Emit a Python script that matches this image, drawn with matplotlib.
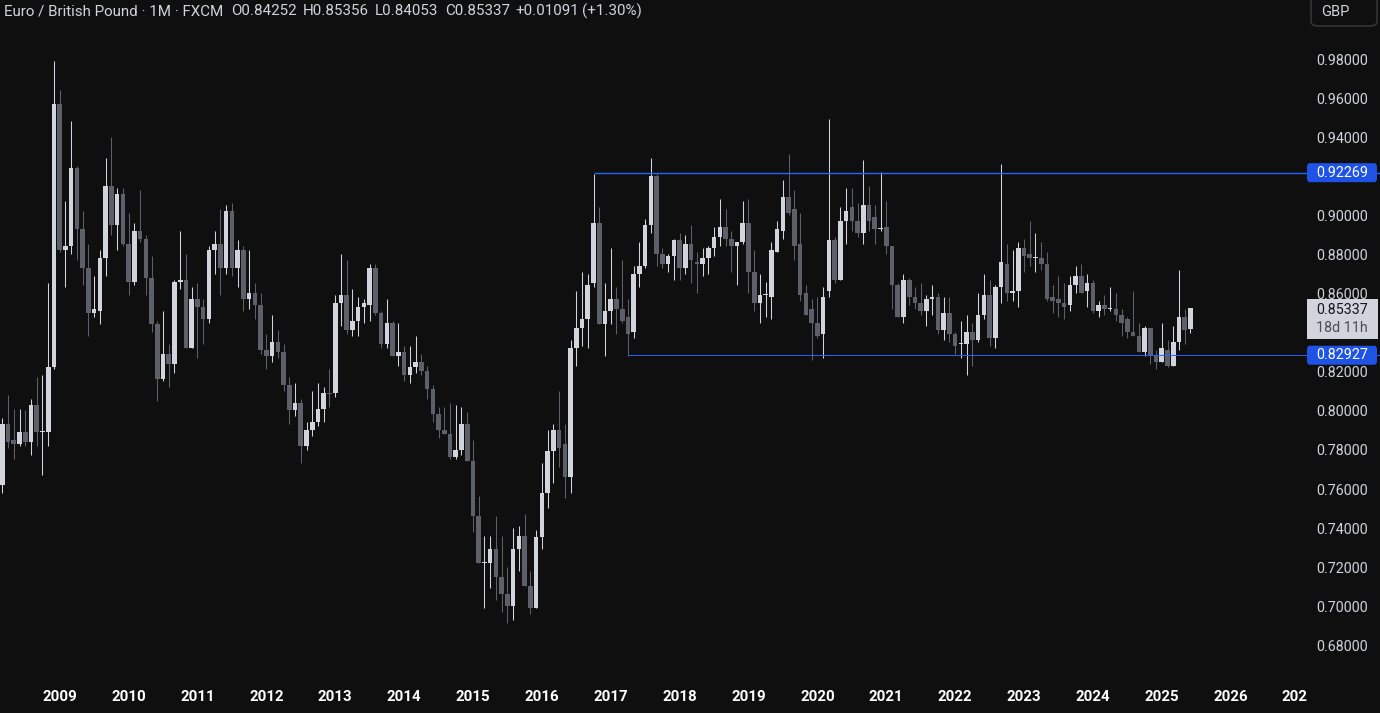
import matplotlib
matplotlib.use("Agg")
import matplotlib.pyplot as plt
import matplotlib.transforms as mtrans
from matplotlib.patches import Rectangle, FancyBboxPatch
import numpy as np
import pandas as pd

# ---------------- data (monthly EUR/GBP, FXCM) ----------------
first_month = "2008-03"

opens = [
    .763, .794, .786, .784, .790, .785, .804, .790, .790, .823,                # 2008 (Mar-Dec)
    .958, .883, .885, .925, .894, .874, .851, .852, .879, .916, .896, .912,    # 2009
    .886, .867, .893, .889, .869, .845, .817, .830, .825, .867, .868, .833,    # 2010
    .858, .854, .848, .883, .886, .874, .903, .874, .883, .858, .861, .855,    # 2011
    .832, .829, .836, .831, .814, .801, .805, .783, .791, .795, .802, .810,    # 2012
    .810, .856, .860, .842, .847, .854, .855, .874, .851, .835, .846, .829,    # 2013
    .831, .819, .823, .826, .821, .812, .799, .791, .789, .777, .781, .794,    # 2014
    .775, .747, .723, .723, .730, .716, .707, .701, .730, .737, .711, .700,    # 2015
    .736, .759, .780, .791, .784, .767, .833, .843, .848, .866, .897, .845,    # 2016
    .852, .858, .853, .849, .841, .871, .875, .896, .921, .881, .876, .880,    # 2017
    .888, .874, .886, .877, .876, .879, .884, .890, .895, .889, .885, .887,    # 2018
    .897, .872, .856, .860, .859, .882, .893, .910, .904, .886, .861, .853,    # 2019
    .846, .840, .862, .888, .868, .898, .905, .898, .892, .906, .900, .894,    # 2020
    .895, .885, .865, .849, .868, .859, .856, .852, .858, .859, .842, .851,    # 2021
    .840, .835, .835, .841, .837, .850, .860, .838, .864, .876, .861, .862,    # 2022
    .884, .881, .879, .879, .876, .859, .858, .856, .855, .865, .870, .862,    # 2023
    .866, .852, .855, .853, .853, .850, .848, .841, .839, .831, .843, .829,    # 2024
    .826, .832, .824, .836, .849, .84252,                                      # 2025 (Jan-Jun)
]
highs = [
    .797, .809, .802, .802, .801, .807, .818, .819, .866, .980,
    .965, .908, .949, .926, .903, .886, .870, .883, .930, .941, .915, .915,
    .902, .897, .914, .891, .880, .847, .852, .835, .868, .893, .881, .864,
    .866, .858, .885, .893, .904, .906, .907, .888, .885, .883, .866, .861,
    .840, .850, .842, .835, .818, .815, .807, .795, .811, .815, .813, .822,
    .860, .881, .878, .863, .859, .858, .876, .876, .852, .858, .847, .846,
    .834, .834, .839, .830, .824, .814, .803, .803, .805, .804, .803, .800,
    .786, .757, .737, .737, .747, .737, .721, .741, .742, .748, .719, .740,
    .774, .791, .794, .811, .794, .837, .862, .872, .871, .922, .905, .866,
    .884, .864, .878, .858, .875, .887, .899, .930, .922, .884, .881, .889,
    .892, .891, .896, .882, .884, .885, .895, .909, .904, .893, .887, .908,
    .909, .883, .871, .867, .887, .898, .919, .932, .914, .902, .865, .858,
    .859, .864, .950, .890, .905, .915, .915, .907, .929, .916, .906, .923,
    .908, .885, .866, .871, .869, .864, .866, .860, .865, .861, .859, .859,
    .841, .847, .850, .846, .861, .871, .868, .865, .927, .886, .883, .887,
    .889, .898, .892, .887, .882, .865, .870, .866, .870, .875, .876, .871,
    .868, .857, .860, .864, .861, .853, .849, .862, .846, .844, .843, .832,
    .846, .837, .844, .873, .853, .85356,
]
lows = [
    .759, .782, .776, .783, .783, .778, .783, .768, .783, .822,
    .882, .864, .881, .878, .865, .839, .849, .845, .870, .891, .883, .885,
    .860, .865, .887, .860, .841, .806, .816, .813, .820, .863, .833, .833,
    .828, .835, .846, .871, .860, .871, .870, .864, .852, .853, .848, .830,
    .822, .826, .828, .811, .794, .798, .774, .781, .788, .793, .795, .803,
    .808, .844, .840, .839, .839, .846, .847, .850, .833, .833, .829, .824,
    .816, .815, .820, .819, .807, .795, .787, .789, .776, .776, .778, .775,
    .739, .723, .700, .710, .704, .698, .692, .694, .719, .711, .697, .700,
    .730, .751, .764, .772, .756, .759, .824, .834, .833, .864, .845, .829,
    .845, .840, .846, .829, .838, .864, .874, .892, .875, .874, .872, .868,
    .868, .871, .866, .861, .870, .871, .880, .885, .885, .872, .865, .886,
    .861, .852, .846, .849, .848, .882, .889, .901, .878, .857, .850, .827,
    .838, .828, .859, .866, .868, .886, .893, .890, .886, .893, .886, .893,
    .881, .853, .849, .846, .855, .853, .850, .844, .850, .840, .837, .836,
    .830, .828, .819, .824, .836, .848, .834, .833, .856, .857, .857, .854,
    .872, .875, .872, .873, .857, .851, .849, .848, .852, .861, .861, .854,
    .851, .849, .850, .852, .847, .839, .838, .839, .831, .829, .825, .822,
    .826, .823, .824, .832, .835, .84053,
]
closes = [
    .794, .785, .784, .790, .785, .804, .790, .7905, .823, .958,
    .883, .885, .925, .894, .874, .851, .853, .879, .916, .896, .912, .886,
    .867, .893, .889, .869, .845, .817, .830, .825, .867, .868, .833, .858,
    .854, .848, .883, .886, .874, .903, .874, .883, .858, .861, .855, .832,
    .829, .836, .831, .814, .801, .805, .783, .791, .795, .802, .810, .8095,
    .856, .860, .842, .847, .854, .856, .874, .851, .835, .846, .829, .831,
    .819, .823, .826, .821, .812, .799, .791, .789, .777, .781, .794, .775,
    .747, .723, .7232, .730, .716, .707, .701, .730, .737, .711, .700, .736,
    .759, .780, .791, .782, .767, .833, .843, .848, .865, .897, .845, .852,
    .858, .853, .847, .840, .871, .875, .896, .921, .881, .876, .880, .888,
    .874, .886, .878, .876, .879, .884, .890, .895, .889, .885, .887, .897,
    .872, .856, .860, .8602, .883, .894, .910, .902, .885, .860, .850, .846,
    .839, .859, .888, .868, .898, .903, .898, .892, .906, .898, .894, .8942,
    .885, .865, .849, .868, .859, .856, .852, .858, .859, .842, .851, .840,
    .834, .8352, .841, .837, .850, .860, .838, .864, .877, .861, .862, .884,
    .880, .879, .8792, .876, .858, .857, .856, .854, .865, .870, .861, .866,
    .852, .855, .853, .8532, .850, .846, .841, .839, .831, .843, .829, .826,
    .833, .824, .836, .849, .842, .85337,
]

price_ticks = [0.68, 0.70, 0.72, 0.74, 0.76, 0.78, 0.80, 0.82, 0.84, 0.86,
               0.88, 0.90, 0.92, 0.94, 0.96, 0.98]
level_high, level_high_from = 0.92269, "2016-10"
level_low, level_low_from = 0.82927, "2017-04"
last_close = 0.85337
countdown = "18d 11h"
currency = "GBP"
title = "Euro / British Pound · 1M · FXCM"
ohlc_text = ["O0.84252", "H0.85356", "L0.84053", "C0.85337", "+0.01091", "(+1.30%)"]
extra_year_label = "202"

# ---------------- styling ----------------
BG = "#0f0f0f"
UP = "#d1d4dc"
DOWN = "#5d606b"
TXT = "#d1d4dc"
BLUE = "#2962ff"
BLUE_BOX = "#1e53e5"
W, H = 1380, 713
FONT = "Roboto"
AXFS = 10.3

n = len(closes)
dates = pd.period_range(first_month, periods=n, freq="M")
x = np.arange(n)
o, h, l, c = map(np.asarray, (opens, highs, lows, closes))
up = c >= o
cols = np.where(up, UP, DOWN)

fig = plt.figure(figsize=(W / 100, H / 100), dpi=100, facecolor=BG)
ax = fig.add_axes([0, 33 / H, 1300 / W, 680 / H])
ax.set_facecolor(BG)
for s in ax.spines.values():
    s.set_visible(False)
ax.set_xticks([])
ax.set_yticks([])

px_per_unit = 1954.0
ax.set_ylim(0.98 - 619.3 / px_per_unit, 0.98 + 60.7 / px_per_unit)
ax.set_xlim(-0.4, 226.08)

# wicks and bodies
ax.vlines(x, l, h, colors=cols, linewidth=0.75, zorder=2)
body_bottom = np.minimum(o, c)
body_h = np.maximum(np.abs(c - o), 0.0006)
ax.bar(x, body_h, bottom=body_bottom, width=0.8, color=cols, linewidth=0, zorder=3)

# horizontal levels
i_hi = int(np.where(dates == pd.Period(level_high_from, "M"))[0][0])
i_lo = int(np.where(dates == pd.Period(level_low_from, "M"))[0][0])
ax.hlines(level_high, i_hi, 240, colors=BLUE, linewidth=1.0, zorder=4, clip_on=False)
ax.hlines(level_low, i_lo, 240, colors=BLUE, linewidth=0.7, zorder=4, clip_on=False)

# right price axis
ytrans = mtrans.blended_transform_factory(fig.transFigure, ax.transData)
label_x = 1316 / W
box_top = last_close + 9 / px_per_unit
box_bot = last_close - 31 / px_per_unit
for t in price_ticks:
    if min(abs(t - level_high), abs(t - level_low)) < 0.005:
        continue
    if box_bot < t < box_top:
        continue  # tick hidden behind the last-price label
    fig.text(label_x, t, f"{t:.5f}", transform=ytrans, color=TXT, fontsize=AXFS,
             family=FONT, va="center", ha="left")

box_h = 19 / px_per_unit
for lvl in (level_high, level_low):
    fig.patches.append(FancyBboxPatch((1307 / W, lvl - box_h / 2), 70 / W, box_h,
                                      boxstyle="round,pad=0,rounding_size=0.002",
                                      transform=ytrans, facecolor=BLUE_BOX,
                                      edgecolor="none", zorder=5))
    fig.text(label_x, lvl, f"{lvl:.5f}", transform=ytrans, color="white",
             fontsize=AXFS, family=FONT, va="center", ha="left", zorder=6)

# last price box
fig.patches.append(Rectangle((1307 / W, box_bot), 71 / W, box_top - box_bot, transform=ytrans,
                             facecolor="#d1d4dc", edgecolor="none", zorder=5))
fig.text(label_x, last_close - 2 / px_per_unit, f"{last_close:.5f}", transform=ytrans,
         color="#131722", fontsize=AXFS, family=FONT, va="center", ha="left", zorder=6)
fig.text(label_x, last_close - 20 / px_per_unit, countdown, transform=ytrans,
         color="#4a4d57", fontsize=AXFS, family=FONT, va="center", ha="left", zorder=6)

# currency button
fig.patches.append(FancyBboxPatch((1311 / W, 1 - 26 / H), 66 / W, 30 / H,
                                  boxstyle="round,pad=0,rounding_size=0.006",
                                  transform=fig.transFigure, facecolor=BG,
                                  edgecolor="#3a3a3a", linewidth=1.0, zorder=5))
fig.text(1335 / W, 1 - 12 / H, currency, color=TXT, fontsize=10.5, family=FONT,
         va="center", ha="center", zorder=6)

# time axis year labels
xtrans = mtrans.blended_transform_factory(ax.transData, fig.transFigure)
YFS = 10.8
for i, d in enumerate(dates):
    if d.month == 1:
        fig.text(i, 1 - 697 / H, str(d.year), transform=xtrans, color="white",
                 fontsize=YFS, family=FONT, fontweight="bold", va="center", ha="center")
i_next = n - 1 + (12 - dates[-1].month) + 1
fig.text(i_next, 1 - 697 / H, str(dates[-1].year + 1), transform=xtrans, color="white",
         fontsize=YFS, family=FONT, fontweight="bold", va="center", ha="center")
fig.text(i_next + 12 - 0.9, 1 - 697 / H, extra_year_label, transform=xtrans, color="white",
         fontsize=YFS, family=FONT, fontweight="bold", va="center", ha="center")

# header
HFS = 10.9
fig.text(4 / W, 1 - 11 / H, title, color=TXT, fontsize=HFS, family=FONT, va="center", ha="left")
header_x = [231, 303, 375, 445, 515, 582]
for xx, s in zip(header_x, ohlc_text):
    fig.text(xx / W, 1 - 11 / H, s, color=TXT, fontsize=HFS, family=FONT, va="center", ha="left")

fig.savefig("out.png", dpi=100, facecolor=BG)
